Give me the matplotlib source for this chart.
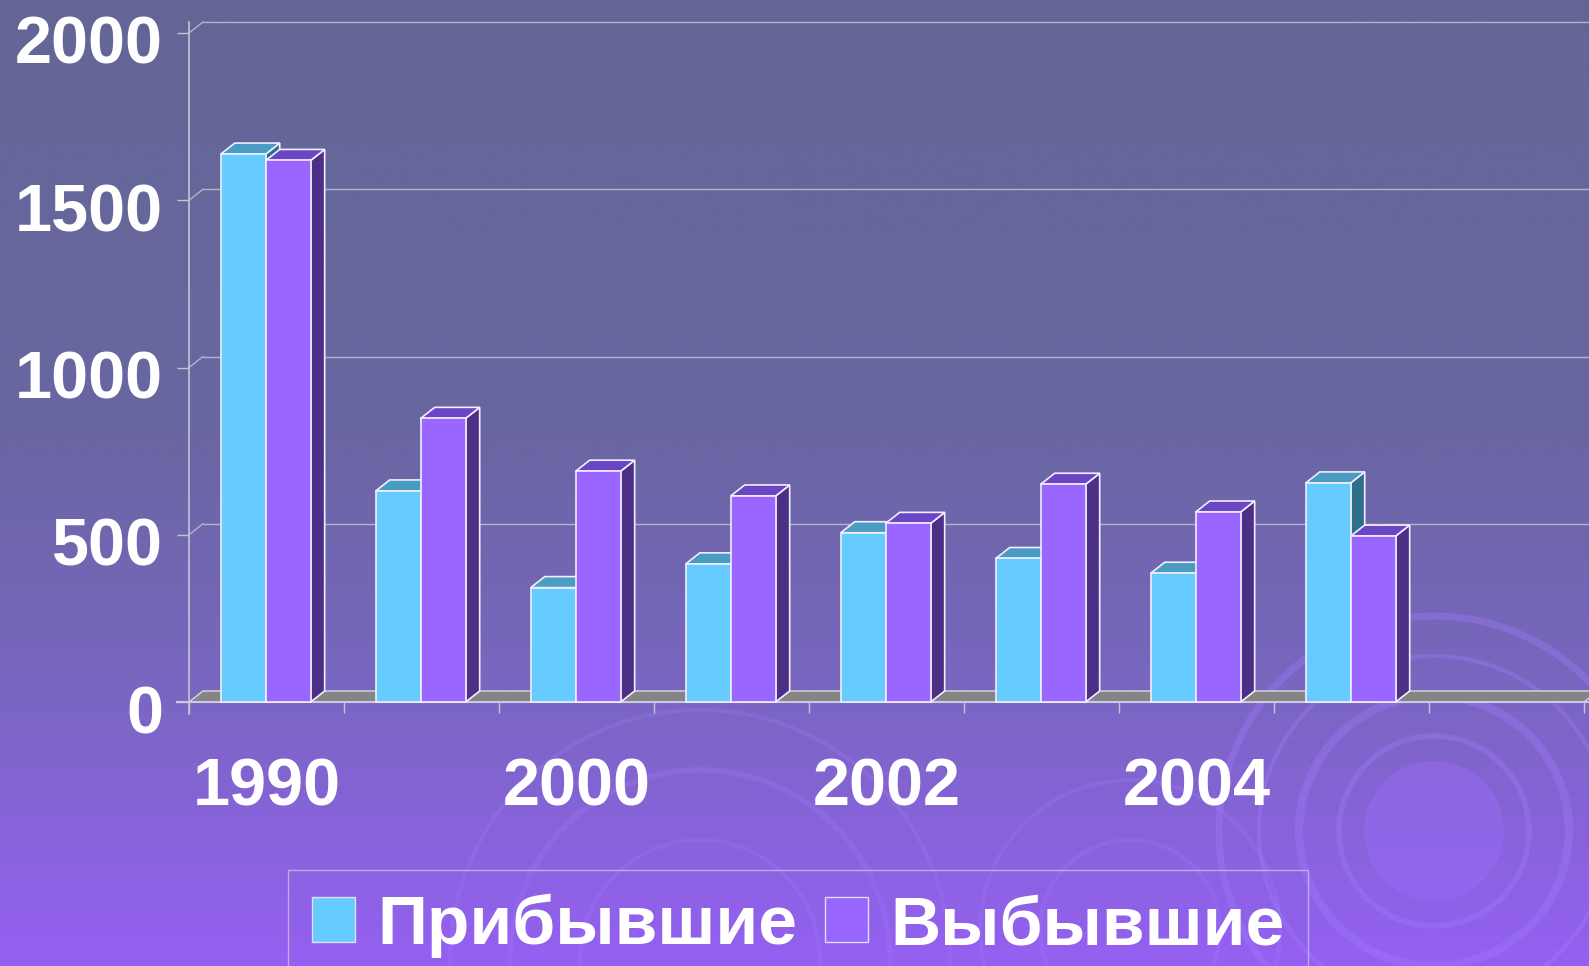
import numpy as np
import matplotlib
matplotlib.use("Agg")
import matplotlib.pyplot as plt
from matplotlib.patches import Polygon, Patch, Circle
from matplotlib.transforms import ScaledTranslation

# data
years = ['1990', '1995', '2000', '2001', '2002', '2003', '2004', '2005', '']
arrived = [1638, 631, 342, 413, 506, 429, 385, 655]
departed = [1619, 848, 690, 616, 534, 651, 568, 496]
yticks = [0, 500, 1000, 1500, 2000]
labels = ['Прибывшие', 'Выбывшие']

plt.rcParams['font.family'] = ['Liberation Sans', 'DejaVu Sans']

W, H = 1589, 966
fig = plt.figure(figsize=(W / 100, H / 100), dpi=100)

# background gradient + decorative rings
bg = fig.add_axes([0, 0, 1, 1])
stops = np.array([0.0, 0.45, 0.72, 1.0])
cols = np.array([[0x63, 0x66, 0x95], [0x69, 0x66, 0xa2],
                 [0x7a, 0x66, 0xc2], [0x95, 0x60, 0xf2]]) / 255
t = np.linspace(0, 1, 400)
grad = np.stack([np.interp(t, stops, cols[:, k]) for k in range(3)], axis=1)
bg.imshow(grad[:, None, :], extent=[0, W, H, 0], aspect='auto')
bg.set_xlim(0, W)
bg.set_ylim(H, 0)
bg.axis('off')
ring = '#a07cff'
bg.add_patch(Circle((1434, 831), 70, color='#9a6cf8', alpha=0.45, lw=0))
for r, lw in [(95, 4), (135, 6), (175, 3), (215, 5)]:
    bg.add_patch(Circle((1434, 831), r, fill=False, ec=ring, lw=lw, alpha=0.35))
for r, lw in [(120, 3), (190, 4), (250, 3)]:
    bg.add_patch(Circle((700, 960), r, fill=False, ec=ring, lw=lw, alpha=0.25))
for r, lw in [(90, 3), (150, 3)]:
    bg.add_patch(Circle((1130, 930), r, fill=False, ec=ring, lw=lw, alpha=0.25))

# main axes, pixel mapping: x0 at px 189, 155 px per category; y0 at px 702
cat_w, y0px, ypx = 155.0, 702.0, 0.3345
ax = fig.add_axes([189 / W, (H - y0px) / H, (W - 189) / W, y0px / H])
ax.set_xlim(0, (W - 189) / cat_w)
ax.set_ylim(0, y0px / ypx)
ax.patch.set_alpha(0)
for s in ax.spines.values():
    s.set_visible(False)

DX = 14 / cat_w
DY = 11 / ypx
ncat = len(years)
xmax = ncat + 1
grid_c = '#b4b4c8'

# back wall grid + connectors
for v in yticks[1:]:
    ax.plot([DX, xmax], [v + DY, v + DY], color=grid_c, lw=1, zorder=1, clip_on=False)
    ax.plot([0, DX], [v, v + DY], color=grid_c, lw=1, zorder=1, clip_on=False)
ax.plot([0, 0], [-35, 2000 + DY], color='#c4c4d4', lw=1.2, zorder=1, clip_on=False)

# floor
ax.add_patch(Polygon([(0, 0), (ncat, 0), (ncat + DX, DY), (DX, DY)], closed=True,
                     fc='#858585', ec='#d8d8e0', lw=1, zorder=2, clip_on=False))
ax.plot([-12 / cat_w, xmax], [0, 0], color='#d0c8e0', lw=1.5, zorder=2, clip_on=False)


def bar3d(x0, w, h, front, top, side):
    edge = dict(ec='#f2eeff', lw=1.2, zorder=3, clip_on=False)
    ax.add_patch(Polygon([(x0 + w, 0), (x0 + w + DX, DY), (x0 + w + DX, h + DY), (x0 + w, h)],
                         fc=side, **edge))
    ax.add_patch(Polygon([(x0, h), (x0 + w, h), (x0 + w + DX, h + DY), (x0 + DX, h + DY)],
                         fc=top, **edge))
    ax.add_patch(Polygon([(x0, 0), (x0 + w, 0), (x0 + w, h), (x0, h)], fc=front, **edge))


bw, off = 0.29, 0.205
for i, (a, d) in enumerate(zip(arrived, departed)):
    bar3d(i + off, bw, a, '#66ccff', '#4a9cc2', '#2e6f8c')
    bar3d(i + off + bw, bw, d, '#9966ff', '#6a46c6', '#4b3085')

# y axis ticks and labels
ax.set_yticks(yticks)
ax.set_yticklabels([str(v) for v in yticks], fontsize=48, fontweight='bold', color='white')
ax.tick_params(axis='y', direction='out', length=8.6, width=1, color='#c4c4d4', pad=10)
for lab in ax.get_yticklabels():
    lab.set_va('center')
    lab.set_transform(lab.get_transform() + ScaledTranslation(0, -14 / 100, fig.dpi_scale_trans))

# x axis ticks at category borders, labels at every other centre
ax.set_xticks(np.arange(ncat + 1))
ax.set_xticklabels([])
ax.tick_params(axis='x', which='major', direction='out', length=8, width=1, color='#c4c4d4')
ax.set_xticks(np.arange(ncat) + 0.5, minor=True)
ax.set_xticklabels([y if k % 2 == 0 else '' for k, y in enumerate(years)], minor=True,
                   fontsize=48, fontweight='bold', color='white')
ax.tick_params(axis='x', which='minor', length=0, pad=40)

# legend
handles = [Patch(fc='#66ccff', ec='#e0e0f0', lw=1), Patch(fc='#9966ff', ec='#e0e0f0', lw=1)]
leg = fig.legend(handles, labels, loc='upper left', bbox_to_anchor=(288 / W, 1 - 870 / H),
                 ncol=2, prop={'weight': 'bold', 'size': 50}, frameon=True,
                 fancybox=False, borderaxespad=0, borderpad=0.34, handlelength=0.62,
                 handleheight=0.62, handletextpad=0.32, columnspacing=0.4)
leg.get_frame().set_facecolor('none')
leg.get_frame().set_edgecolor('#c8c0e8')
leg.get_frame().set_linewidth(1)
for txt in leg.get_texts():
    txt.set_color('white')

fig.savefig('out.png', dpi=100)
